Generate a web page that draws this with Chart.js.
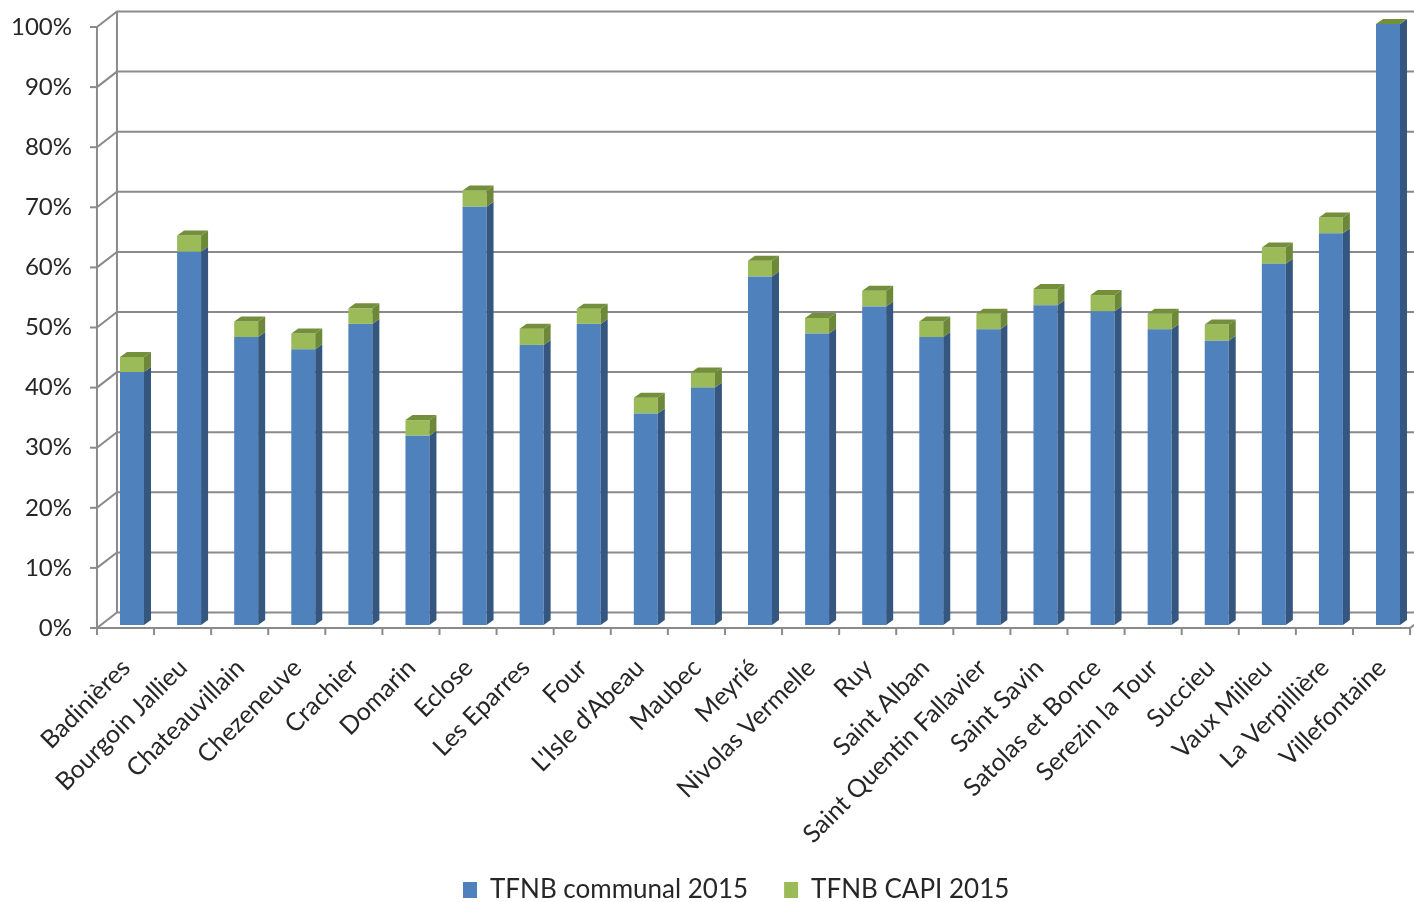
<!DOCTYPE html>
<html>
<head>
<meta charset="utf-8">
<script src="https://cdn.jsdelivr.net/npm/chart.js@4.4.1/dist/chart.umd.min.js"></script>
<style>
  html, body { margin: 0; padding: 0; background: #ffffff; }
  #wrap { width: 1414px; height: 902px; position: relative; }
</style>
</head>
<body>
<div id="wrap"><canvas id="c" width="1414" height="902"></canvas></div>
<script>
const categories = [
  "Badinières", "Bourgoin Jallieu", "Chateauvillain", "Chezeneuve", "Crachier",
  "Domarin", "Eclose", "Les Eparres", "Four", "L'Isle d'Abeau", "Maubec", "Meyrié",
  "Nivolas Vermelle", "Ruy", "Saint Alban", "Saint Quentin Fallavier", "Saint Savin",
  "Satolas et Bonce", "Serezin la Tour", "Succieu", "Vaux Milieu", "La Verpillière",
  "Villefontaine"
];
const communal2015 = [
  42.1, 62.1, 47.9, 45.9, 50.1, 31.5, 69.6, 46.6, 50.1, 35.2, 39.5, 58.0,
  48.5, 53.0, 47.9, 49.2, 53.2, 52.2, 49.2, 47.3, 60.1, 65.2, 100.0
];
const capi2015 = [
  2.5, 2.7, 2.6, 2.6, 2.6, 2.6, 2.7, 2.7, 2.5, 2.6, 2.5, 2.6,
  2.6, 2.6, 2.6, 2.6, 2.7, 2.7, 2.6, 2.7, 2.7, 2.6, 0.0
];
const yTickValues = [0, 10, 20, 30, 40, 50, 60, 70, 80, 90, 100];
const seriesNames = ["TFNB communal 2015", "TFNB CAPI 2015"];

const FONT = "Lato, 'Open Sans', sans-serif";
const Y_FONT_SIZE = 24;
const X_FONT_SIZE = 25;
const LEGEND_FONT_SIZE = 26;
const TEXT = "#262626";
const GRID = "#8a8a8a";
const DEPTH = { dx: 7, dy: -5 };
const FRONT = { dx: -6.5, dy: 3 };
const BACK = { dx: 13.5, dy: -12.5 };
const SIDE_COLS = ["#34567f", "#6d8838"];
const TOP_COLS = ["#3f6594", "#738f3c"];
const LEGEND_CENTER_Y = 890;
const LEGEND_START_X = 463;

const frame3d = {
  id: "frame3d",
  afterLayout(chart) {
    const lg = chart.legend;
    if (lg) {
      const p = lg.options.labels.padding;
      const shiftY = LEGEND_CENTER_Y - (lg.top + p + LEGEND_FONT_SIZE / 2);
      lg.top += shiftY;
      lg.bottom += shiftY;
      const lw = lg.lineWidths ? lg.lineWidths[0] : 0;
      const startX = (lg.left + p + lg.right - lw) / 2;
      const shiftX = LEGEND_START_X - startX;
      lg.left += shiftX;
      lg.right += shiftX;
    }
    const xs = chart.scales.x;
    if (xs) { xs.bottom = chart.height; }
  },
  beforeDatasetsDraw(chart) {
    const { ctx, scales: { x, y } } = chart;
    const n = categories.length;
    const step = x.getPixelForValue(1) - x.getPixelForValue(0);
    const half = step / 2;
    const left = x.getPixelForValue(0) - half;
    const right = x.getPixelForValue(n - 1) + half;
    const y0 = y.getPixelForValue(0);
    const y100 = y.getPixelForValue(100);
    ctx.save();
    ctx.strokeStyle = GRID;
    ctx.lineWidth = 2;
    ctx.lineCap = "butt";
    yTickValues.forEach(v => {
      const py = y.getPixelForValue(v);
      ctx.beginPath();
      ctx.moveTo(left + FRONT.dx, py + FRONT.dy);
      ctx.lineTo(left + BACK.dx, py + BACK.dy);
      ctx.lineTo(chart.width + 5, py + BACK.dy);
      ctx.stroke();
      ctx.beginPath();
      ctx.moveTo(left + FRONT.dx - 7, py + FRONT.dy);
      ctx.lineTo(left + FRONT.dx, py + FRONT.dy);
      ctx.stroke();
    });
    ctx.beginPath();
    ctx.moveTo(left + BACK.dx, y100 + BACK.dy);
    ctx.lineTo(left + BACK.dx, y0 + BACK.dy);
    ctx.stroke();
    ctx.beginPath();
    ctx.moveTo(left + FRONT.dx, y100 + FRONT.dy);
    ctx.lineTo(left + FRONT.dx, y0 + FRONT.dy);
    ctx.stroke();
    ctx.beginPath();
    ctx.moveTo(left + FRONT.dx, y0 + FRONT.dy);
    ctx.lineTo(right + FRONT.dx, y0 + FRONT.dy);
    ctx.lineTo(right + BACK.dx, y0 + BACK.dy);
    ctx.stroke();
    for (let i = 0; i <= n; i++) {
      const px = left + i * step + FRONT.dx;
      ctx.beginPath();
      ctx.moveTo(px, y0 + FRONT.dy);
      ctx.lineTo(px, y0 + FRONT.dy + 7);
      ctx.stroke();
    }
    ctx.restore();
  },
  afterDatasetsDraw(chart) {
    const ctx = chart.ctx;
    const metas = chart.getSortedVisibleDatasetMetas();
    ctx.save();
    metas.forEach((meta, di) => {
      meta.data.forEach(bar => {
        const p = bar.getProps(["x", "y", "base", "width"], true);
        const l = p.x - p.width / 2;
        const r = p.x + p.width / 2;
        const top = Math.min(p.y, p.base);
        const bot = Math.max(p.y, p.base);
        if (bot - top > 0.01) {
          ctx.fillStyle = SIDE_COLS[di];
          ctx.beginPath();
          ctx.moveTo(r, top);
          ctx.lineTo(r + DEPTH.dx, top + DEPTH.dy);
          ctx.lineTo(r + DEPTH.dx, bot + DEPTH.dy);
          ctx.lineTo(r, bot);
          ctx.closePath();
          ctx.fill();
        }
        if (di === metas.length - 1) {
          ctx.fillStyle = TOP_COLS[di];
          ctx.beginPath();
          ctx.moveTo(l, top);
          ctx.lineTo(l + DEPTH.dx, top + DEPTH.dy);
          ctx.lineTo(r + DEPTH.dx, top + DEPTH.dy);
          ctx.lineTo(r, top);
          ctx.closePath();
          ctx.fill();
        }
      });
    });
    ctx.restore();
  }
};

new Chart(document.getElementById("c"), {
  type: "bar",
  data: {
    labels: categories,
    datasets: [
      { label: seriesNames[0], data: communal2015, backgroundColor: "#4f81bd", borderWidth: 0, clip: false },
      { label: seriesNames[1], data: capi2015, backgroundColor: "#9bbb59", borderWidth: 0, clip: false }
    ]
  },
  options: {
    responsive: false,
    animation: false,
    devicePixelRatio: 1,
    barPercentage: 0.42,
    categoryPercentage: 1,
    layout: { padding: { top: 24, right: 26, bottom: 0, left: 0 } },
    plugins: {
      tooltip: { enabled: false },
      legend: {
        position: "bottom",
        labels: {
          font: { family: FONT, size: LEGEND_FONT_SIZE },
          color: TEXT,
          boxWidth: 14,
          boxHeight: 16,
          padding: 36
        }
      }
    },
    scales: {
      x: {
        stacked: true,
        offset: false,
        grid: { display: false, drawTicks: false },
        border: { display: false },
        ticks: {
          autoSkip: false,
          minRotation: 45,
          maxRotation: 45,
          padding: 28,
          labelOffset: -6,
          color: TEXT,
          font: { family: FONT, size: X_FONT_SIZE }
        },
        afterFit(s) { s.height = 205; s.paddingLeft = 0; s.paddingRight = 0; }
      },
      y: {
        stacked: true,
        min: 0,
        max: 100,
        grid: { display: false, drawTicks: false },
        border: { display: false },
        ticks: {
          stepSize: 10,
          padding: 60,
          labelOffset: 3,
          color: TEXT,
          font: { family: FONT, size: Y_FONT_SIZE },
          callback: v => v + "%"
        },
        afterFit(s) { s.width = 132; s.paddingTop = 0; s.paddingBottom = 0; }
      }
    }
  },
  plugins: [frame3d]
});
</script>
</body>
</html>
